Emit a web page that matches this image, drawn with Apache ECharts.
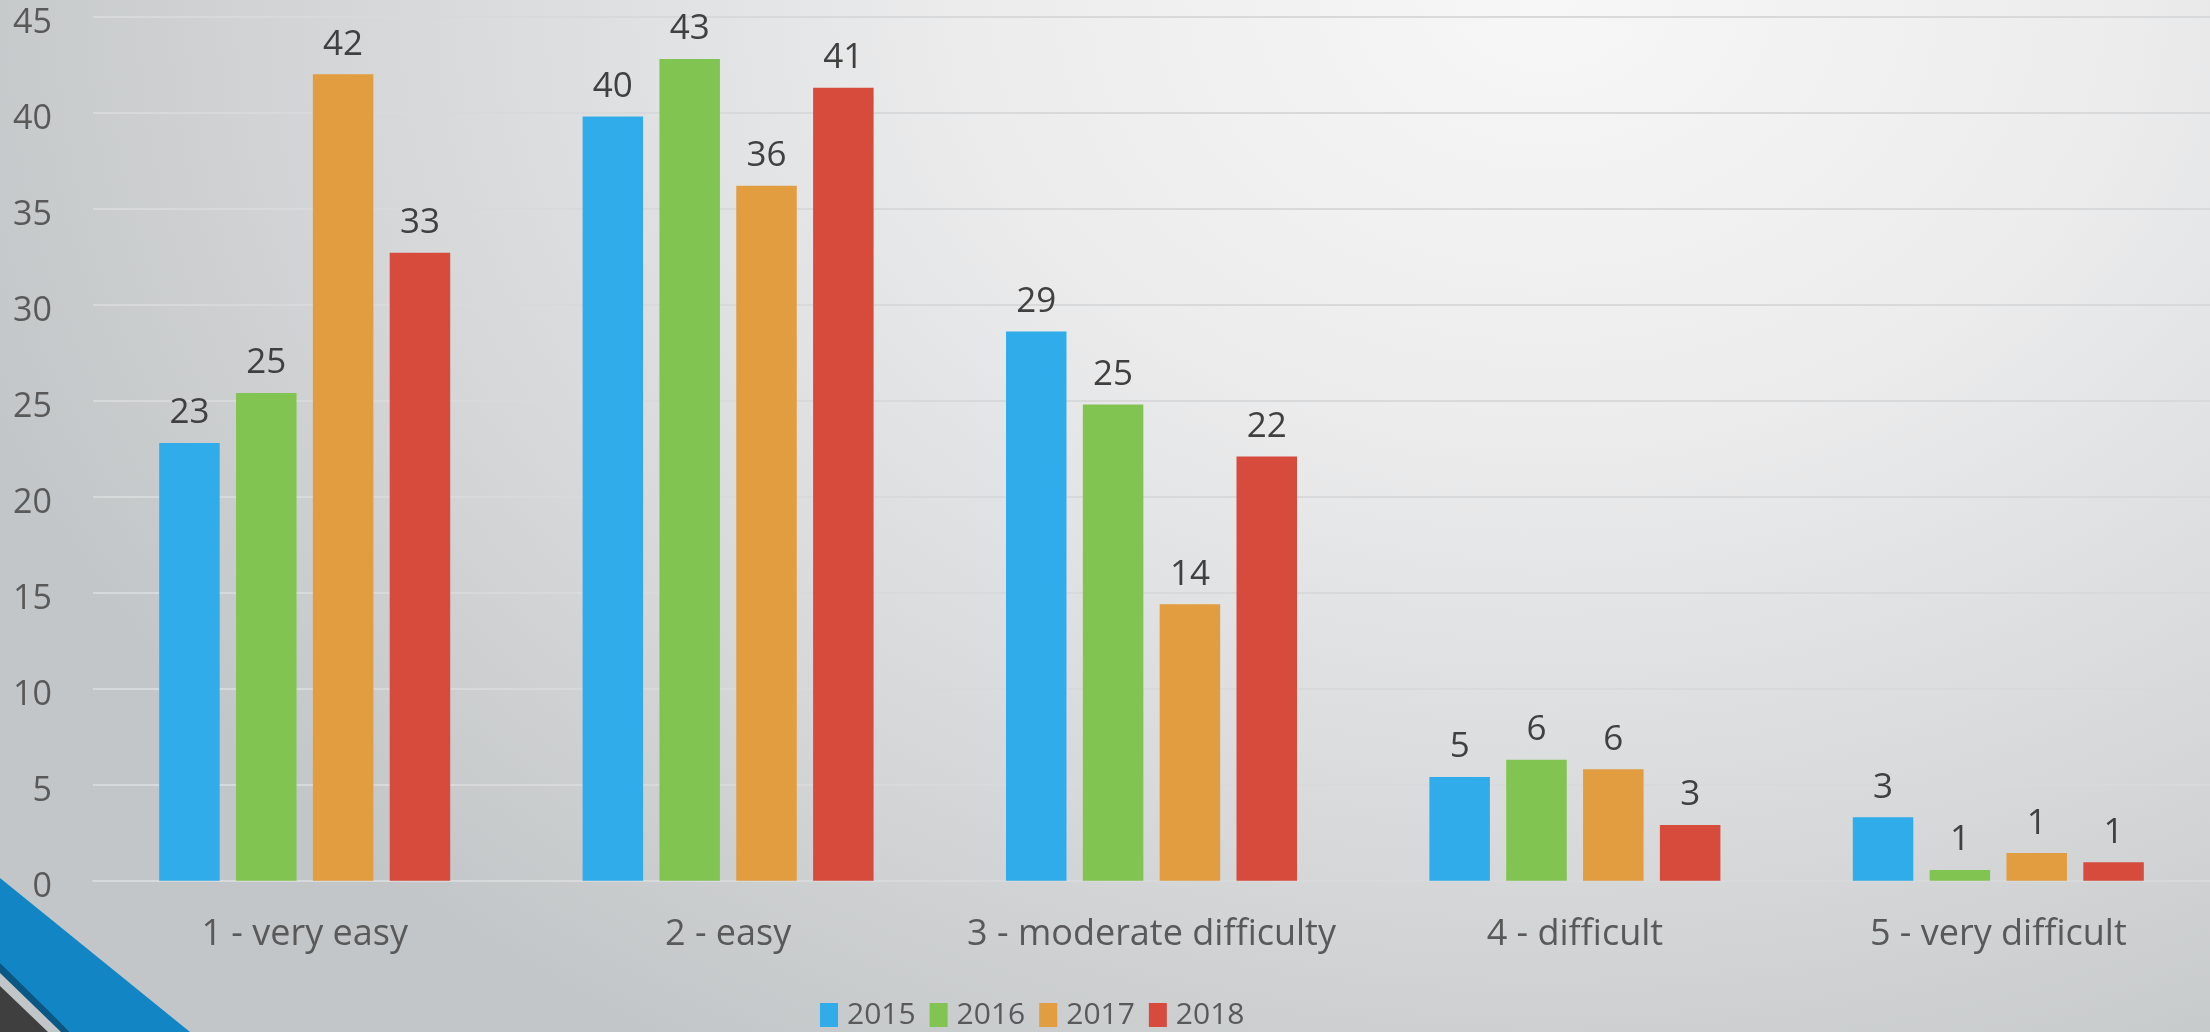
<!DOCTYPE html>
<html>
<head>
<meta charset="utf-8">
<style>
  html, body { margin: 0; padding: 0; }
  #chart {
    width: 2210px;
    height: 1032px;
    background: radial-gradient(ellipse 75% 120% at 70% 0%, #f7f7f8 0%, #ececed 35%, #d6d8d9 70%, #c3c6c8 100%);
  }
</style>
<script src="https://cdn.jsdelivr.net/npm/echarts@6/dist/echarts.min.js"></script>
</head>
<body>
<div id="chart"></div>
<script>
const categories = ['1 - very easy', '2 - easy', '3 - moderate difficulty', '4 - difficult', '5 - very difficult']
const years = ['2015', '2016', '2017', '2018']
const values2015 = [22.8, 39.8, 28.6, 5.4, 3.3]
const values2016 = [25.4, 42.8, 24.8, 6.3, 0.56]
const values2017 = [42.0, 36.2, 14.4, 5.8, 1.44]
const values2018 = [32.7, 41.3, 22.1, 2.9, 0.96]
const colors = ['#31acea', '#82c451', '#e19d40', '#d74b3c']

const font = '"Open Sans", sans-serif'
const chart = echarts.init(document.getElementById('chart'))

function makeSeries(name, data, color) {
  return {
    name,
    type: 'bar',
    data,
    barWidth: 60.5,
    barGap: '27%',
    itemStyle: { color },
    label: {
      show: true,
      position: 'top',
      distance: 12,
      color: '#404040',
      fontSize: 35,
      fontFamily: font,
      formatter: (p) => Math.round(p.value)
    }
  }
}

chart.setOption({
  backgroundColor: 'transparent',
  animation: false,
  color: colors,
  grid: { left: 93, right: 0, top: 16.7, bottom: 151.3 },
  legend: {
    left: 815,
    top: 995,
    icon: 'rect',
    itemWidth: 18,
    itemHeight: 24,
    itemGap: 14,
    textStyle: { color: '#595959', fontSize: 30, fontFamily: font, padding: [0, 0, 0, 4] },
    data: years
  },
  xAxis: {
    type: 'category',
    data: categories,
    axisTick: { show: false },
    axisLine: { lineStyle: { color: '#d8d9da', width: 2 } },
    axisLabel: { interval: 0, color: '#595959', fontSize: 36, fontFamily: font, margin: 36 }
  },
  yAxis: {
    type: 'value',
    min: 0,
    max: 45,
    interval: 5,
    axisLine: { show: false },
    axisTick: { show: false },
    axisLabel: {
      color: '#595959',
      fontSize: 34,
      fontFamily: font,
      margin: 41,
      verticalAlign: 'top',
      lineHeight: 14
    },
    splitLine: { lineStyle: { color: '#d8d9da', width: 2 } }
  },
  graphic: [
    { type: 'polygon', silent: true, shape: { points: [[0, 878], [190, 1032], [70, 1032], [0, 966]] }, style: { fill: '#1286c4' } },
    { type: 'polygon', silent: true, shape: { points: [[0, 963], [70, 1032], [61, 1032], [0, 973]] }, style: { fill: '#0b5783' } },
    { type: 'polygon', silent: true, shape: { points: [[0, 986], [48, 1032], [0, 1032]] }, style: { fill: '#3f3f3f' } }
  ],
  series: [
    makeSeries(years[0], values2015, colors[0]),
    makeSeries(years[1], values2016, colors[1]),
    makeSeries(years[2], values2017, colors[2]),
    makeSeries(years[3], values2018, colors[3])
  ]
})
</script>
</body>
</html>
